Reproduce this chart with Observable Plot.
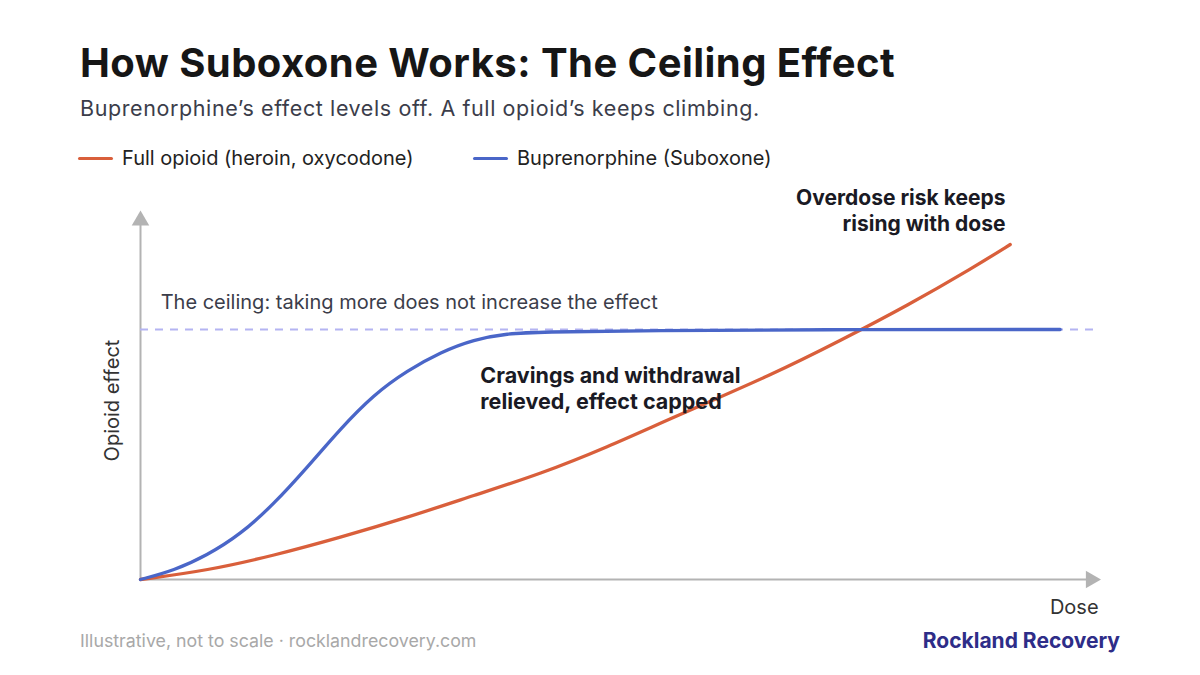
<!DOCTYPE html>
<html>
<head>
<meta charset="utf-8">
<script src="https://cdn.jsdelivr.net/npm/d3@7"></script>
<script src="https://cdn.jsdelivr.net/npm/@observablehq/plot@0.6"></script>
<style>
  html, body { margin: 0; padding: 0; background: #fff; }
  body { width: 1200px; height: 675px; position: relative; overflow: hidden; font-family: Inter, "Open Sans", sans-serif; }
  .abs { position: absolute; white-space: nowrap; }
  #title { left: 80px; top: 38px; line-height: 50px; font-size: 40px; font-weight: 700; color: #161616; letter-spacing: 0.45px; }
  #subtitle { left: 80px; top: 94px; line-height: 28px; font-size: 21.5px; color: #3b3d4a; letter-spacing: 0.6px; }
  .legend-item { position: absolute; top: 146px; height: 24px; display: flex; align-items: center; font-size: 20px; color: #222; }
  .swatch { width: 35px; height: 3px; border-radius: 2px; margin-right: 9px; }
  #footer { left: 80px; top: 630px; line-height: 22px; font-size: 17.8px; color: #a8a8a8; }
  #brand { right: 80px; top: 629px; line-height: 24px; font-size: 21px; font-weight: 700; color: #2e2d88; }
  #chart { position: absolute; left: 0; top: 190px; }
</style>
</head>
<body>
<div id="title" class="abs"></div>
<div id="subtitle" class="abs"></div>
<div id="legend"></div>
<div id="chart"></div>
<div id="footer" class="abs"></div>
<div id="brand" class="abs"></div>
<script>
// ---- text ----
const titleText = "How Suboxone Works: The Ceiling Effect";
const subtitleText = "Buprenorphine\u2019s effect levels off. A full opioid\u2019s keeps climbing.";
const footerText = "Illustrative, not to scale \u00b7 rocklandrecovery.com";
const brandText = "Rockland Recovery";

// ---- series ----
const seriesNames = ["Full opioid (heroin, oxycodone)", "Buprenorphine (Suboxone)"];
const seriesColors = ["#d95f3b", "#4a66c8"];

// Full opioid: dose (0-100) vs effect (ceiling = 100)
const opioidDose   = [0, 7.0, 13.9, 20.8, 27.8, 34.7, 41.7, 48.6, 55.5, 66.0, 72.9, 79.9, 86.8, 90.6];
const opioidEffect = [0, 3.6, 9.6, 16.8, 24.8, 33.6, 42.3, 52.9, 64.9, 82.3, 95.6, 109.6, 124.9, 134.0];

// Buprenorphine
const bupDose   = [0, 3.5, 6.9, 10.4, 13.9, 17.4, 20.8, 24.3, 27.8, 31.3, 34.7, 38.2, 41.7, 52.1, 75.0, 95.8];
const bupEffect = [0, 3.6, 9.6, 18.0, 30.2, 45.0, 60.2, 74.0, 83.6, 91.0, 96.0, 98.4, 99.0, 99.6, 100, 100];

const ceiling = 100;
const ceilingLabel = "The ceiling: taking more does not increase the effect";
const capNote = "Cravings and withdrawal\nrelieved, effect capped";
const riskNote = "Overdose risk keeps\nrising with dose";
const xLabel = "Dose";
const yLabel = "Opioid effect";

// ---- HTML text ----
document.getElementById("title").textContent = titleText;
document.getElementById("subtitle").textContent = subtitleText;
document.getElementById("footer").textContent = footerText;
document.getElementById("brand").textContent = brandText;
const legendX = [78, 473];
const legend = document.getElementById("legend");
seriesNames.forEach((n, i) => {
  const item = document.createElement("div");
  item.className = "legend-item";
  item.style.left = legendX[i] + "px";
  const sw = document.createElement("span");
  sw.className = "swatch";
  sw.style.background = seriesColors[i];
  const t = document.createElement("span");
  t.textContent = n;
  item.appendChild(sw); item.appendChild(t);
  legend.appendChild(item);
});

// ---- chart ----
const opioid = opioidDose.map((d, i) => ({dose: d, effect: opioidEffect[i]}));
const bup = bupDose.map((d, i) => ({dose: d, effect: bupEffect[i]}));
const axisColor = "#b3b3b3";

const chart = Plot.plot({
  width: 1200,
  height: 440,
  marginLeft: 140,
  marginRight: 100,
  marginTop: 24,
  marginBottom: 51,
  style: {fontFamily: "Inter, 'Open Sans', sans-serif", background: "transparent", overflow: "visible"},
  x: {domain: [0, 100], axis: null},
  y: {domain: [0, 146], axis: null},
  marks: [
    // axes
    Plot.ruleY([0], {x1: 0, x2: 98.8, stroke: axisColor, strokeWidth: 2}),
    Plot.ruleX([0], {y1: 0, y2: 143, stroke: axisColor, strokeWidth: 2}),
    Plot.dot([{x: 99, y: 0}], {x: "x", y: "y", symbol: "triangle", r: 6.5, fill: axisColor, stroke: null, rotate: 90}),
    Plot.dot([{x: 0, y: 143.6}], {x: "x", y: "y", symbol: "triangle", r: 6.5, fill: axisColor, stroke: null}),
    // ceiling
    Plot.ruleY([ceiling], {x1: 0, x2: 100, stroke: "#b4b4f2", strokeWidth: 2, strokeDasharray: "8,7"}),
    Plot.text([ceilingLabel], {x: 2.1, y: 110.8, text: d => d, textAnchor: "start", fontSize: 20, fill: "#3b3d4a"}),
    // curves
    Plot.line(opioid, {x: "dose", y: "effect", stroke: seriesColors[0], strokeWidth: 3.3, curve: "basis"}),
    Plot.line(bup, {x: "dose", y: "effect", stroke: seriesColors[1], strokeWidth: 3.3, curve: "basis"}),
    // annotations
    Plot.text([capNote], {x: 35.4, y: 76.8, text: d => d, textAnchor: "start", lineAnchor: "middle", lineHeight: 1.21, fontSize: 21.5, fontWeight: 700, fill: "#1a1a24"}),
    Plot.text([riskNote], {x: 90.1, y: 148.0, text: d => d, textAnchor: "end", lineAnchor: "middle", lineHeight: 1.24, fontSize: 21, fontWeight: 700, fill: "#1a1a24"}),
    // axis labels
    Plot.text([xLabel], {x: 99.8, y: -11.2, text: d => d, textAnchor: "end", fontSize: 20, fill: "#333"}),
    Plot.text([yLabel], {x: -2.9, y: 71.6, text: d => d, rotate: -90, fontSize: 20, fill: "#333"})
  ]
});
document.getElementById("chart").appendChild(chart);
</script>
</body>
</html>
